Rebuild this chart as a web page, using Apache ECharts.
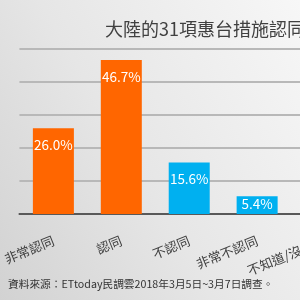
<!DOCTYPE html>
<html>
<head>
<meta charset="utf-8">
<script src="https://cdn.jsdelivr.net/npm/echarts@6/dist/echarts.min.js"></script>
<style>
html,body{margin:0;padding:0;width:300px;height:300px;overflow:hidden;}
body{background:linear-gradient(60deg,#d2d2d2 0%,#e6e6e6 45%,#f7f7f7 100%);}
#c{width:372px;height:300px;}
</style>
</head>
<body>
<div id="c"></div>
<script>
const categories = ['非常認同', '認同', '不認同', '非常不認同', '不知道/沒意見'];
const values = [26.0, 46.7, 15.6, 5.4, 6.3];
const barColors = ['#FF6600', '#FF6600', '#00B0F0', '#00B0F0', '#A6A6A6'];
const titleText = '大陸的31項惠台措施認同度';
const sourceText = '資料來源：ETtoday民調雲2018年3月5日~3月7日調查。';

const FONT = '"Noto Sans CJK TC", "Noto Sans", sans-serif';
const chart = echarts.init(document.getElementById('c'), null, {renderer: 'canvas'});
chart.setOption({
  backgroundColor: 'transparent',
  animation: false,
  title: {
    text: titleText,
    left: 100, top: 15,
    textStyle: {fontFamily: FONT, fontSize: 18, fontWeight: 'normal', color: '#404040'}
  },
  graphic: [{
    type: 'text', left: 8, top: 279,
    style: {text: sourceText, font: '10.7px ' + FONT, fill: '#333333'}
  }],
  grid: {left: 19, right: 13, top: 49, bottom: 86},
  xAxis: {
    type: 'category',
    data: categories,
    axisTick: {show: false},
    axisLine: {lineStyle: {color: '#595959', width: 2}},
    axisLabel: {rotate: 22, margin: 26, fontFamily: FONT, fontSize: 13, color: '#404040', interval: 0}
  },
  yAxis: {
    type: 'value', min: 0, max: 50, interval: 10,
    axisLabel: {show: false},
    axisLine: {show: false},
    axisTick: {show: false},
    splitLine: {lineStyle: {color: '#b8b8b8', width: 2}}
  },
  series: [{
    type: 'bar',
    barWidth: 41,
    data: values.map((v, i) => ({
      value: v,
      itemStyle: {color: barColors[i]},
      label: {distance: v < 10 ? 1 : 10}
    })),
    label: {
      show: true, position: 'insideTop',
      formatter: p => p.value.toFixed(1) + '%',
      color: '#ffffff', fontFamily: FONT, fontSize: 13.5
    }
  }]
});
</script>
</body>
</html>
